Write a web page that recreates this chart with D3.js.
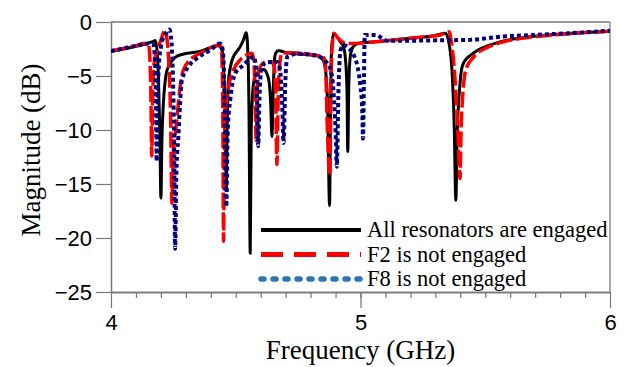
<!DOCTYPE html>
<html lang="en">
<head>
    <meta charset="UTF-8">
    <title>Magnitude vs Frequency</title>
    <script src="https://d3js.org/d3.v7.min.js"></script>
    <style>
        body { margin: 0; background: #fff; }
        .tick text { font-family: "Liberation Sans", Arial, sans-serif; font-size: 22px; fill: #000; }
        .title { font-family: "Liberation Serif", "Times New Roman", serif; font-size: 27px; fill: #000; }
        .legend text { font-family: "Liberation Serif", "Times New Roman", serif; font-size: 22.5px; fill: #000; }
    </style>
</head>
<body>
    <svg width="625" height="367"></svg>

    <script>
        // [frequency GHz, magnitude dB]
        const allEngaged = [
            [4.000, -2.70], [4.050, -2.50], [4.100, -2.25], [4.150, -1.95], [4.170, -1.80],
            [4.177, -1.72], [4.183, -2.3], [4.190, -5.0], [4.196, -10.5], [4.200, -16.3],
            [4.204, -11.0], [4.210, -7.5], [4.217, -5.5], [4.224, -4.5], [4.244, -3.6],
            [4.270, -3.1], [4.360, -2.7], [4.430, -2.2], [4.445, -2.6], [4.452, -4.5],
            [4.458, -9.0], [4.462, -15.5], [4.466, -9.0], [4.471, -5.5], [4.481, -3.9],
            [4.491, -3.2], [4.505, -2.7], [4.518, -2.28], [4.530, -1.7], [4.542, -1.0],
            [4.548, -2.5], [4.553, -8.0], [4.558, -21.4], [4.562, -10.0], [4.568, -6.5],
            [4.575, -5.2], [4.585, -4.75], [4.600, -4.45], [4.612, -4.4], [4.625, -4.8],
            [4.634, -5.6], [4.640, -7.5], [4.645, -10.6], [4.650, -6.5], [4.655, -3.6],
            [4.660, -2.9], [4.672, -2.65], [4.690, -2.75], [4.720, -2.9], [4.780, -3.0],
            [4.830, -3.15], [4.850, -3.5], [4.860, -4.5], [4.868, -7.5], [4.876, -17.0],
            [4.880, -8.0], [4.884, -2.5], [4.893, -1.05], [4.905, -1.35], [4.920, -1.85],
            [4.932, -2.3], [4.940, -3.5], [4.946, -6.5], [4.949, -12.0], [4.953, -6.0],
            [4.960, -3.0], [4.970, -2.3], [4.990, -2.0], [5.050, -1.85], [5.107, -1.73],
            [5.200, -1.5], [5.300, -1.25], [5.341, -1.05], [5.355, -2.0], [5.368, -5.0],
            [5.376, -10.0], [5.382, -16.5], [5.388, -10.0], [5.395, -6.9], [5.408, -4.1],
            [5.425, -3.4], [5.442, -3.06], [5.475, -2.55], [5.509, -2.22], [5.562, -1.82],
            [5.650, -1.45], [5.750, -1.2], [5.850, -1.05], [6.000, -0.85]
        ];

        const f2Off = [
            [4.000, -2.70], [4.050, -2.45], [4.100, -2.2], [4.130, -2.0], [4.150, -2.1],
            [4.156, -3.5], [4.160, -7.0], [4.163, -12.4], [4.167, -7.0], [4.172, -4.0],
            [4.180, -3.0], [4.190, -2.3], [4.200, -1.67], [4.210, -1.0], [4.217, -0.74],
            [4.224, -1.5], [4.232, -4.0], [4.239, -9.0], [4.244, -16.8], [4.250, -12.0],
            [4.257, -10.5], [4.264, -9.0], [4.270, -7.5], [4.277, -6.0], [4.290, -4.44],
            [4.317, -3.5], [4.357, -2.9], [4.410, -2.28], [4.438, -2.1], [4.444, -3.0],
            [4.448, -8.0], [4.451, -20.3], [4.455, -10.0], [4.462, -7.5], [4.471, -6.0],
            [4.491, -4.44], [4.518, -3.5], [4.540, -3.1], [4.565, -2.9], [4.572, -3.5],
            [4.577, -6.0], [4.582, -11.0], [4.587, -6.0], [4.595, -4.3], [4.610, -3.8],
            [4.625, -3.67], [4.645, -3.7], [4.655, -4.3], [4.660, -7.0], [4.665, -13.2],
            [4.670, -7.0], [4.676, -4.0], [4.685, -2.9], [4.720, -2.85], [4.800, -3.0],
            [4.853, -3.3], [4.860, -4.2], [4.866, -9.1], [4.877, -14.2], [4.882, -5.0],
            [4.886, -2.5], [4.893, -1.05], [4.910, -1.5], [4.940, -1.98], [4.970, -2.0],
            [5.020, -1.9], [5.107, -1.73], [5.200, -1.5], [5.321, -1.2], [5.340, -1.0],
            [5.355, -0.9], [5.365, -2.0], [5.378, -5.0], [5.390, -10.0], [5.399, -14.5],
            [5.403, -10.0], [5.408, -7.5], [5.422, -4.44], [5.455, -3.2], [5.509, -2.35],
            [5.562, -1.9], [5.650, -1.5], [5.750, -1.25], [5.850, -1.05], [6.000, -0.85]
        ];

        const f8Off = [
            [4.000, -2.70], [4.050, -2.45], [4.100, -2.2], [4.150, -2.0], [4.170, -2.1],
            [4.176, -3.5], [4.180, -7.0], [4.183, -12.9], [4.187, -7.0], [4.192, -4.0],
            [4.200, -2.3], [4.210, -1.4], [4.222, -1.0], [4.234, -0.7], [4.241, -1.5],
            [4.248, -5.0], [4.253, -11.0], [4.257, -21.0], [4.262, -14.0], [4.270, -10.6],
            [4.277, -7.5], [4.284, -5.4], [4.310, -4.14], [4.344, -3.36], [4.398, -2.6],
            [4.438, -1.98], [4.448, -2.6], [4.454, -6.0], [4.462, -17.1], [4.468, -10.0],
            [4.478, -7.2], [4.498, -4.75], [4.531, -4.0], [4.572, -3.2], [4.580, -4.0],
            [4.586, -7.5], [4.590, -11.5], [4.595, -7.0], [4.602, -4.5], [4.620, -3.75],
            [4.667, -3.7], [4.678, -4.5], [4.686, -7.5], [4.692, -11.2], [4.698, -6.0],
            [4.707, -3.2], [4.750, -2.95], [4.820, -3.1], [4.866, -3.8], [4.880, -4.4],
            [4.892, -6.5], [4.900, -10.0], [4.905, -13.4], [4.912, -6.0], [4.920, -2.6],
            [4.933, -2.13], [4.953, -2.44], [4.973, -3.06], [4.993, -4.75], [5.000, -6.0],
            [5.007, -8.1], [5.010, -10.8], [5.014, -5.0], [5.017, -1.2], [5.060, -1.2],
            [5.107, -1.73], [5.188, -1.73], [5.300, -1.7], [5.440, -1.65], [5.562, -1.36],
            [5.695, -1.2], [5.830, -1.05], [6.000, -0.8]
        ];

        const seriesNames = ["All resonators are engaged", "F2 is not engaged", "F8 is not engaged"];
        const yTicks = [0, -5, -10, -15, -20, -25];
        const xTicks = [4, 5, 6];

        const margin = { top: 22, right: 15, bottom: 75, left: 111 };
        const width = 625, height = 367;
        const svg = d3.select("svg");

        const x = d3.scaleLinear().domain([4, 6]).range([margin.left, width - margin.right]);
        const y = d3.scaleLinear().domain([-25, 0]).range([height - margin.bottom, margin.top]);

        // frame: top and right border
        svg.append("line")
            .attr("x1", x(4)).attr("x2", x(6)).attr("y1", y(0)).attr("y2", y(0))
            .attr("stroke", "#777").attr("stroke-width", 1.5);
        svg.append("line")
            .attr("x1", x(6)).attr("x2", x(6)).attr("y1", y(0)).attr("y2", y(-25))
            .attr("stroke", "#aaa").attr("stroke-width", 2);

        // y axis
        const yAxis = svg.append("g")
            .attr("transform", `translate(${x(4)},0)`)
            .call(d3.axisLeft(y).tickValues(yTicks).tickSize(15).tickPadding(4).tickSizeOuter(0));

        // x axis: minor ticks every 0.1 GHz, labels on whole GHz
        const xMinor = svg.append("g")
            .attr("transform", `translate(0,${y(-25)})`)
            .call(d3.axisBottom(x).tickValues(d3.range(41, 60).map(d => d / 10)).tickSize(6).tickFormat("").tickSizeOuter(0));
        const xAxis = svg.append("g")
            .attr("transform", `translate(0,${y(-25)})`)
            .call(d3.axisBottom(x).tickValues(xTicks).tickSize(16).tickPadding(6)
                .tickFormat(d3.format("d")).tickSizeOuter(0));

        [yAxis, xMinor, xAxis].forEach(g => {
            g.select(".domain").attr("stroke", "#777").attr("stroke-width", 1.5);
            g.selectAll(".tick line").attr("stroke", "#777").attr("stroke-width", 1.2);
        });

        // clip
        svg.append("clipPath").attr("id", "plot")
            .append("rect")
            .attr("x", x(4)).attr("y", y(0) - 2)
            .attr("width", x(6) - x(4)).attr("height", y(-25) - y(0) + 2);

        const line = d3.line()
            .x(d => x(d[0]))
            .y(d => y(d[1]))
            .curve(d3.curveMonotoneX);

        const plot = svg.append("g").attr("clip-path", "url(#plot)");

        plot.append("path").datum(allEngaged)
            .attr("fill", "none").attr("stroke", "#000").attr("stroke-width", 3)
            .attr("d", line);
        plot.append("path").datum(f2Off)
            .attr("fill", "none").attr("stroke", "#ff0000").attr("stroke-width", 3.5)
            .attr("stroke-dasharray", "16,4")
            .attr("d", line);
        plot.append("path").datum(f8Off)
            .attr("fill", "none").attr("stroke", "#000080").attr("stroke-width", 4)
            .attr("stroke-dasharray", "4,3")
            .attr("d", line);

        // axis titles
        svg.append("text").attr("class", "title")
            .attr("text-anchor", "middle")
            .attr("x", x(5)).attr("y", 359)
            .text("Frequency (GHz)");
        svg.append("text").attr("class", "title")
            .attr("text-anchor", "middle")
            .attr("transform", `translate(40,${y(-12.5) - 7}) rotate(-90)`)
            .text("Magnitude (dB)");

        // legend
        const legendStyles = [
            { stroke: "#000", width: 4, dash: null, cap: "butt" },
            { stroke: "#ff0000", width: 5, dash: "22,11", cap: "butt" },
            { stroke: "#2e75b6", width: 5.5, dash: "3,9", cap: "round" }
        ];
        const legend = svg.append("g").attr("class", "legend");
        seriesNames.forEach((name, i) => {
            const ly = 230 + i * 24.5;
            const s = legendStyles[i];
            legend.append("line")
                .attr("x1", 261).attr("x2", 361).attr("y1", ly).attr("y2", ly)
                .attr("stroke", s.stroke).attr("stroke-width", s.width)
                .attr("stroke-dasharray", s.dash).attr("stroke-linecap", s.cap);
            legend.append("text")
                .attr("x", 367).attr("y", ly + 7)
                .text(name);
        });
    </script>
</body>
</html>
